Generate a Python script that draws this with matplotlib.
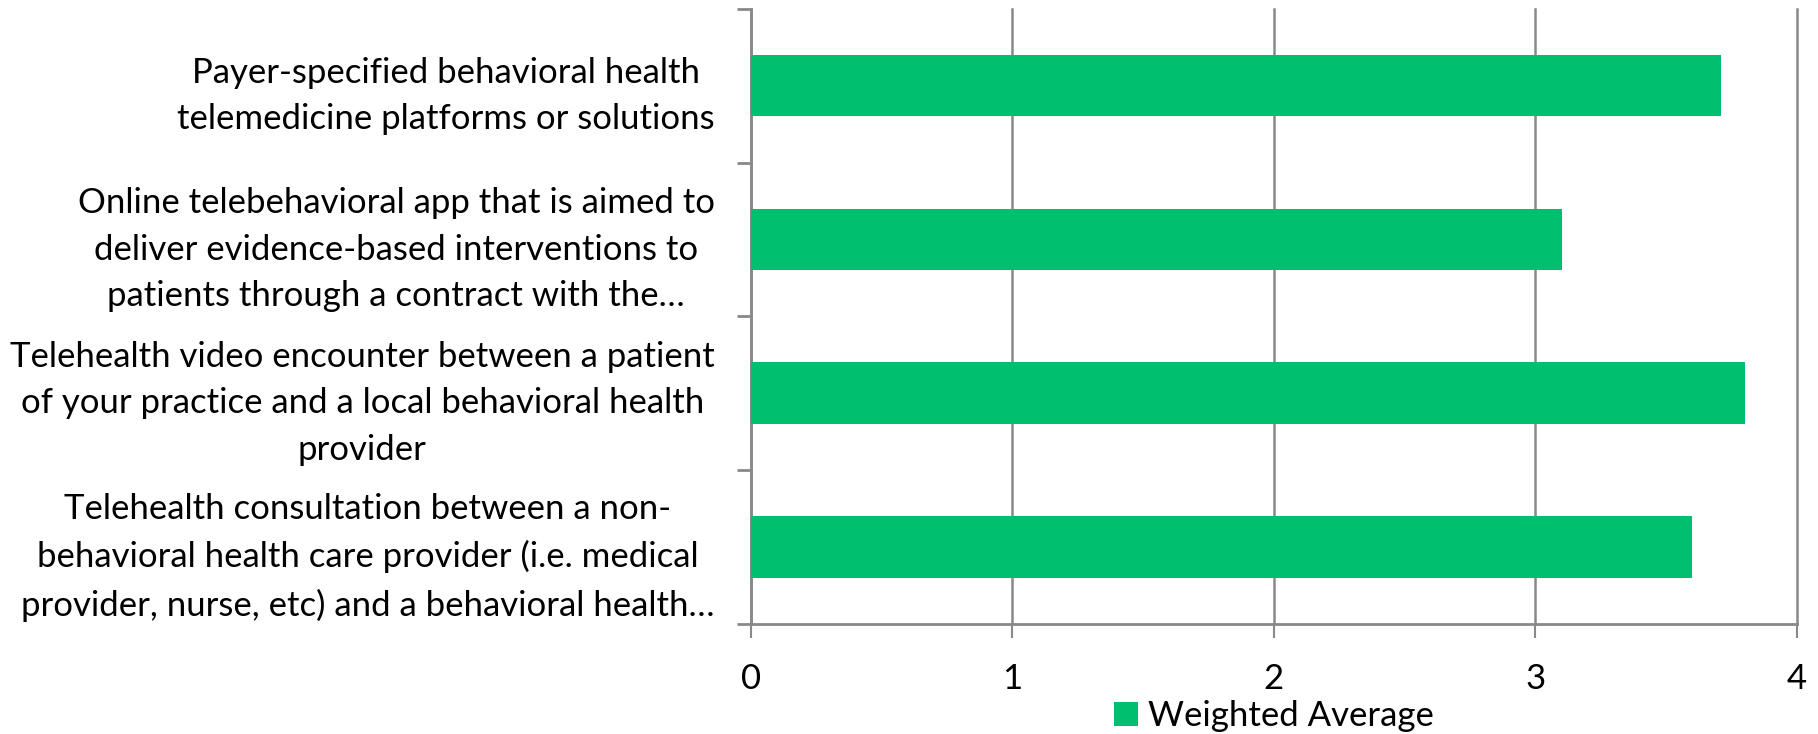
import matplotlib

matplotlib.use("Agg")
import matplotlib.pyplot as plt
import numpy as np

# top-to-bottom order as shown in the chart
categories = [
    "Payer-specified behavioral health\ntelemedicine platforms or solutions",
    "Online telebehavioral app that is aimed to\ndeliver evidence-based interventions to\npatients through a contract with the\u2026",
    "Telehealth video encounter between a patient\nof your practice and a local behavioral health\nprovider",
    "Telehealth consultation between a non-\nbehavioral health care provider (i.e. medical\nprovider, nurse, etc) and a behavioral health\u2026",
]
weighted_average = [3.71, 3.10, 3.80, 3.60]
x_ticks = [0, 1, 2, 3, 4]

GREEN = "#00BF6F"
GRAY = "#898989"

plt.rcParams["font.family"] = ["Lato", "DejaVu Sans"]

fig = plt.figure(figsize=(18.18, 7.34), dpi=100)
ax = fig.add_axes([0.413, 0.150, 0.9884 - 0.413, 0.988 - 0.150])

y = np.arange(len(categories))
ax.barh(y, weighted_average, height=0.4, color=GREEN, label="Weighted Average", zorder=3)

ax.set_xlim(0, 4)
ax.set_ylim(len(categories) - 0.5, -0.5)
ax.set_xticks(x_ticks)
ax.set_xticklabels([str(t) for t in x_ticks], fontsize=25)
ax.set_yticks(y)
ax.set_yticklabels(categories, fontsize=25, multialignment="center", linespacing=1.55)
ax.set_yticks(np.arange(len(categories) + 1) - 0.5, minor=True)

ax.tick_params(axis="y", which="major", length=0, pad=26)
ax.tick_params(axis="y", which="minor", length=10, width=2, color=GRAY)
ax.tick_params(axis="x", which="major", length=10, width=1.5, color=GRAY, pad=18)

ax.grid(axis="x", color=GRAY, linewidth=1.8, zorder=0)
for line in ax.get_xgridlines():
    line.set_clip_on(False)
for side in ("top", "right"):
    ax.spines[side].set_visible(False)
for side in ("left", "bottom"):
    ax.spines[side].set_color(GRAY)
    ax.spines[side].set_linewidth(2)

ax.legend(loc="center", bbox_to_anchor=(0.5, -0.15), frameon=False, fontsize=25,
          handlelength=0.7, handleheight=0.7, handletextpad=0.3)

fig.savefig("out.png", dpi=100)
